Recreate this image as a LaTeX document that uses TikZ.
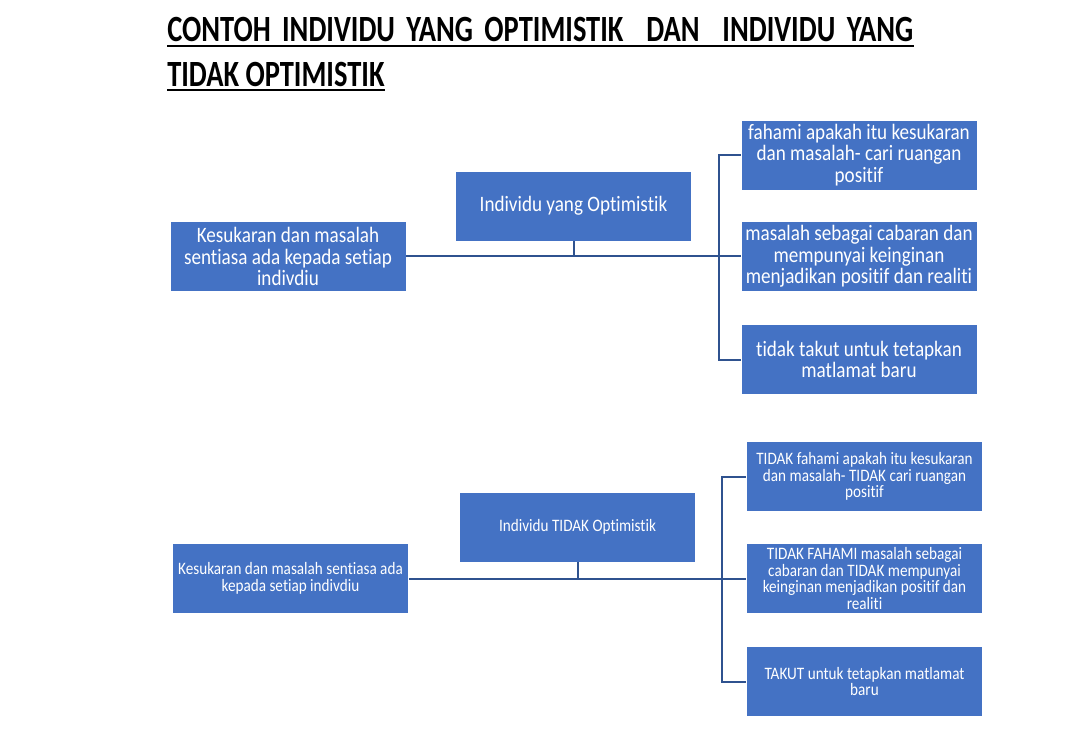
\documentclass[tikz,border=0pt]{standalone}
\usepackage{fontspec}
\setmainfont[FakeStretch=0.77, Ligatures=NoCommon]{Carlito}
\newfontfamily\boxfont[FakeStretch=0.87, Ligatures=NoCommon]{Carlito}
\usepackage{xcolor}
\usetikzlibrary{positioning}
\definecolor{boxblue}{HTML}{4472C4}
\definecolor{linkblue}{HTML}{2F528F}
\newlength\pxu
\setlength\pxu{0.75pt}

\begin{document}
\begin{tikzpicture}[x=\pxu, y=-\pxu,
    box/.style={rectangle, draw=white, fill=boxblue, text=white, line width=0.5pt,
                minimum width=236*\pxu, minimum height=70*\pxu, align=center,
                inner sep=2pt},
    big/.style={box, font=\boxfont\fontsize{16.5}{16.1}\selectfont},
    small/.style={box, font=\boxfont\fontsize{13.1}{12.5}\selectfont},
    link/.style={draw=linkblue, line width=1.5pt},
    ttl/.style={inner sep=0pt, anchor=base west,
                font=\bfseries\fontsize{27.75}{30}\selectfont},
    uline/.style={line width=2.2pt}
]
    \fill[white] (0,0) rectangle (1079,731);
    \useasboundingbox (0,0) rectangle (1079,731);

    % Judul
    \node[ttl] (t1) at (167,42)
        {\makebox[746\pxu][s]{CONTOH INDIVIDU YANG OPTIMISTIK \ DAN \ INDIVIDU YANG}};
    \node[ttl] (t2) at (167,87) {TIDAK OPTIMISTIK};
    \draw[uline] ([yshift=-4\pxu]t1.base west) -- ([yshift=-4\pxu]t1.base east);
    \draw[uline] ([yshift=-3\pxu]t2.base west) -- ([yshift=-3\pxu]t2.base east);

    % Individu yang optimistik
    \node[big] (kesA) at (288,256.5) {Kesukaran dan masalah\\sentiasa ada kepada setiap\\indivdiu};
    \node[big] (optA) at (573.5,206) {Individu yang Optimistik};
    \node[big] (cirA1) at (859,155) {fahami apakah itu kesukaran\\dan masalah- cari ruangan\\positif};
    \node[big] (cirA2) at (859,256.5) {masalah sebagai cabaran dan\\mempunyai keinginan\\menjadikan positif dan realiti};
    \node[big] (cirA3) at (859,359.5) {tidak takut untuk tetapkan\\matlamat baru};
    \coordinate (brA) at (719,0);

    \draw[link] (kesA.east) -- (cirA2.west);
    \draw[link] (optA.south) -- (optA.south |- kesA.east);
    \draw[link] (cirA1.west) -- (cirA1.west -| brA) -- (cirA3.west -| brA) -- (cirA3.west);

    % Individu tidak optimistik
    \node[small] (kesB) at (290.5,578.5) {Kesukaran dan masalah sentiasa ada\\kepada setiap indivdiu};
    \node[small] (optB) at (577.5,527) {Individu TIDAK Optimistik};
    \node[small] (cirB1) at (864.5,476.5) {TIDAK fahami apakah itu kesukaran\\dan masalah- TIDAK cari ruangan\\positif};
    \node[small] (cirB2) at (864.5,578.5) {TIDAK FAHAMI masalah sebagai\\cabaran dan TIDAK mempunyai\\keinginan menjadikan positif dan\\realiti};
    \node[small] (cirB3) at (864.5,681.5) {TAKUT untuk tetapkan matlamat\\baru};
    \coordinate (brB) at (722,0);

    \draw[link] (kesB.east) -- (cirB2.west);
    \draw[link] (optB.south) -- (optB.south |- kesB.east);
    \draw[link] (cirB1.west) -- (cirB1.west -| brB) -- (cirB3.west -| brB) -- (cirB3.west);
\end{tikzpicture}
\end{document}
